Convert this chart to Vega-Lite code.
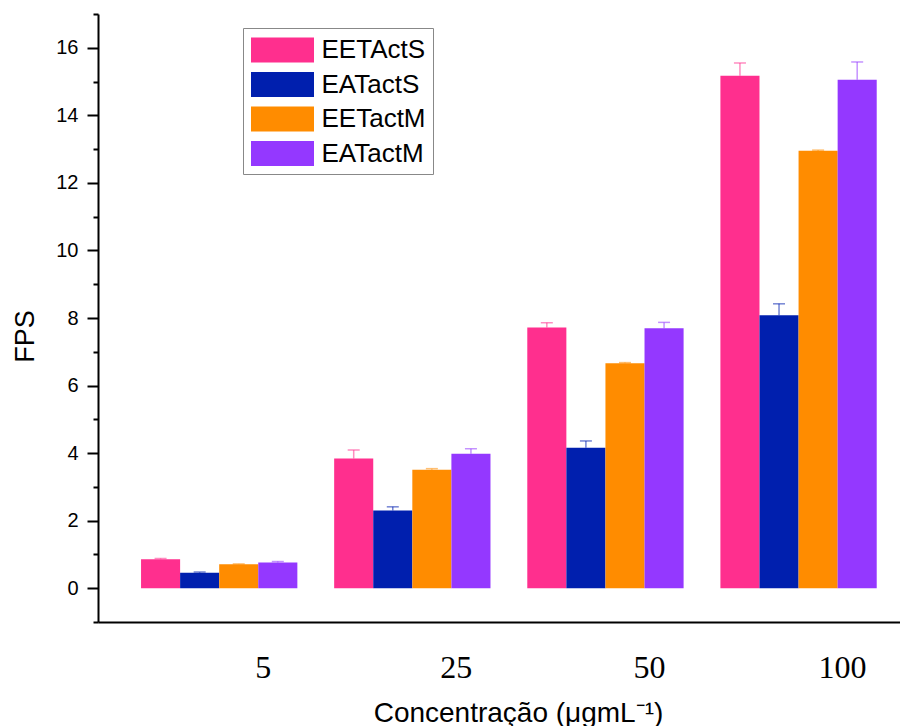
{
  "$schema": "https://vega.github.io/schema/vega-lite/v6.json",
  "width": 802,
  "height": 608,
  "autosize": {"type": "none"},
  "padding": {"left": 98, "top": 14, "right": 0, "bottom": 104},
  "background": "white",
  "config": {"view": {"stroke": null}, "font": "Liberation Sans"},
  "data": {"values": [
    {"conc": "5", "series": "EETActS", "value": 0.86, "hi": 0.88},
    {"conc": "5", "series": "EATactS", "value": 0.46, "hi": 0.48},
    {"conc": "5", "series": "EETactM", "value": 0.71, "hi": 0.72},
    {"conc": "5", "series": "EATactM", "value": 0.76, "hi": 0.79},
    {"conc": "25", "series": "EETActS", "value": 3.84, "hi": 4.09},
    {"conc": "25", "series": "EATactS", "value": 2.30, "hi": 2.41},
    {"conc": "25", "series": "EETactM", "value": 3.51, "hi": 3.54},
    {"conc": "25", "series": "EATactM", "value": 3.98, "hi": 4.13},
    {"conc": "50", "series": "EETActS", "value": 7.72, "hi": 7.86},
    {"conc": "50", "series": "EATactS", "value": 4.16, "hi": 4.36},
    {"conc": "50", "series": "EETactM", "value": 6.66, "hi": 6.68},
    {"conc": "50", "series": "EATactM", "value": 7.70, "hi": 7.87},
    {"conc": "100", "series": "EETActS", "value": 15.17, "hi": 15.55},
    {"conc": "100", "series": "EATactS", "value": 8.08, "hi": 8.42},
    {"conc": "100", "series": "EETactM", "value": 12.95, "hi": 12.97},
    {"conc": "100", "series": "EATactM", "value": 15.05, "hi": 15.58}
  ]},
  "encoding": {
    "x": {
      "field": "conc", "type": "nominal", "sort": ["5", "25", "50", "100"],
      "scale": {"paddingInner": 0.1906, "paddingOuter": 0.1717, "align": 0.649},
      "axis": {
        "title": "Concentração (μgmL⁻¹)",
        "titleFont": "Liberation Sans", "titleFontSize": 28, "titleFontWeight": "normal", "titleColor": "black",
        "titleX": 420, "titleY": 99, "titleBaseline": "alphabetic",
        "labelFont": "Liberation Serif", "labelFontSize": 32, "labelColor": "black",
        "labelAngle": 0, "labelOffset": 44, "labelPadding": 30, "labelBaseline": "top",
        "ticks": false, "tickSize": 0,
        "domainColor": "black", "domainWidth": 2, "grid": false
      }
    },
    "xOffset": {"field": "series", "type": "nominal", "sort": ["EETActS", "EATactS", "EETactM", "EATactM"], "scale": {"paddingInner": 0, "paddingOuter": 0}},
    "color": {
      "field": "series", "type": "nominal",
      "scale": {"domain": ["EETActS", "EATactS", "EETactM", "EATactM"], "range": ["#FF2F8E", "#001FAE", "#FF8C00", "#9438FF"]},
      "legend": {
        "title": null, "orient": "none", "legendX": 145, "legendY": 14,
        "fillColor": "white", "strokeColor": "#888888", "padding": 7,
        "symbolType": "M-2.1,-0.83h4.2v1.66h-4.2z", "symbolSize": 900, "symbolStrokeWidth": 0, "symbolOpacity": 1,
        "symbolOffset": 17.5, "labelOffset": 24, "rowPadding": 6.5,
        "labelFont": "Liberation Sans", "labelFontSize": 26, "labelColor": "black",
        "labelExpr": "datum.label + '\u00a0\u00a0\u00a0'"
      }
    }
  },
  "resolve": {"axis": {"y": "independent"}},
  "layer": [
    {
      "mark": {"type": "bar"},
      "encoding": {
        "y": {
          "field": "value", "type": "quantitative",
          "scale": {"domain": [-1, 17], "nice": false, "zero": false},
          "axis": {
            "orient": "left",
            "title": "FPS", "titleFont": "Liberation Sans", "titleFontSize": 27, "titleFontWeight": "normal", "titleColor": "black",
            "titleX": -65, "titleY": 322, "titleBaseline": "alphabetic", "titleAngle": 270,
            "values": [0, 2, 4, 6, 8, 10, 12, 14, 16],
            "labelFont": "Liberation Sans", "labelFontSize": 20, "labelColor": "black", "labelPadding": 9,
            "tickSize": 11, "tickColor": "black", "tickWidth": 2,
            "domainColor": "black", "domainWidth": 2, "grid": false
          }
        }
      }
    },
    {
      "mark": {"type": "rule", "strokeWidth": 1.5, "opacity": 0.55},
      "encoding": {
        "y": {
          "field": "value", "type": "quantitative",
          "axis": {
            "orient": "left", "title": null, "labels": false, "domain": false,
            "values": [-1, 1, 3, 5, 7, 9, 11, 13, 15, 17],
            "tickSize": 5, "tickColor": "black", "tickWidth": 2, "grid": false
          }
        },
        "y2": {"field": "hi"}
      }
    },
    {
      "mark": {"type": "tick", "size": 12, "thickness": 1.5, "opacity": 0.55},
      "encoding": {
        "y": {"field": "hi", "type": "quantitative", "axis": null}
      }
    }
  ]
}
